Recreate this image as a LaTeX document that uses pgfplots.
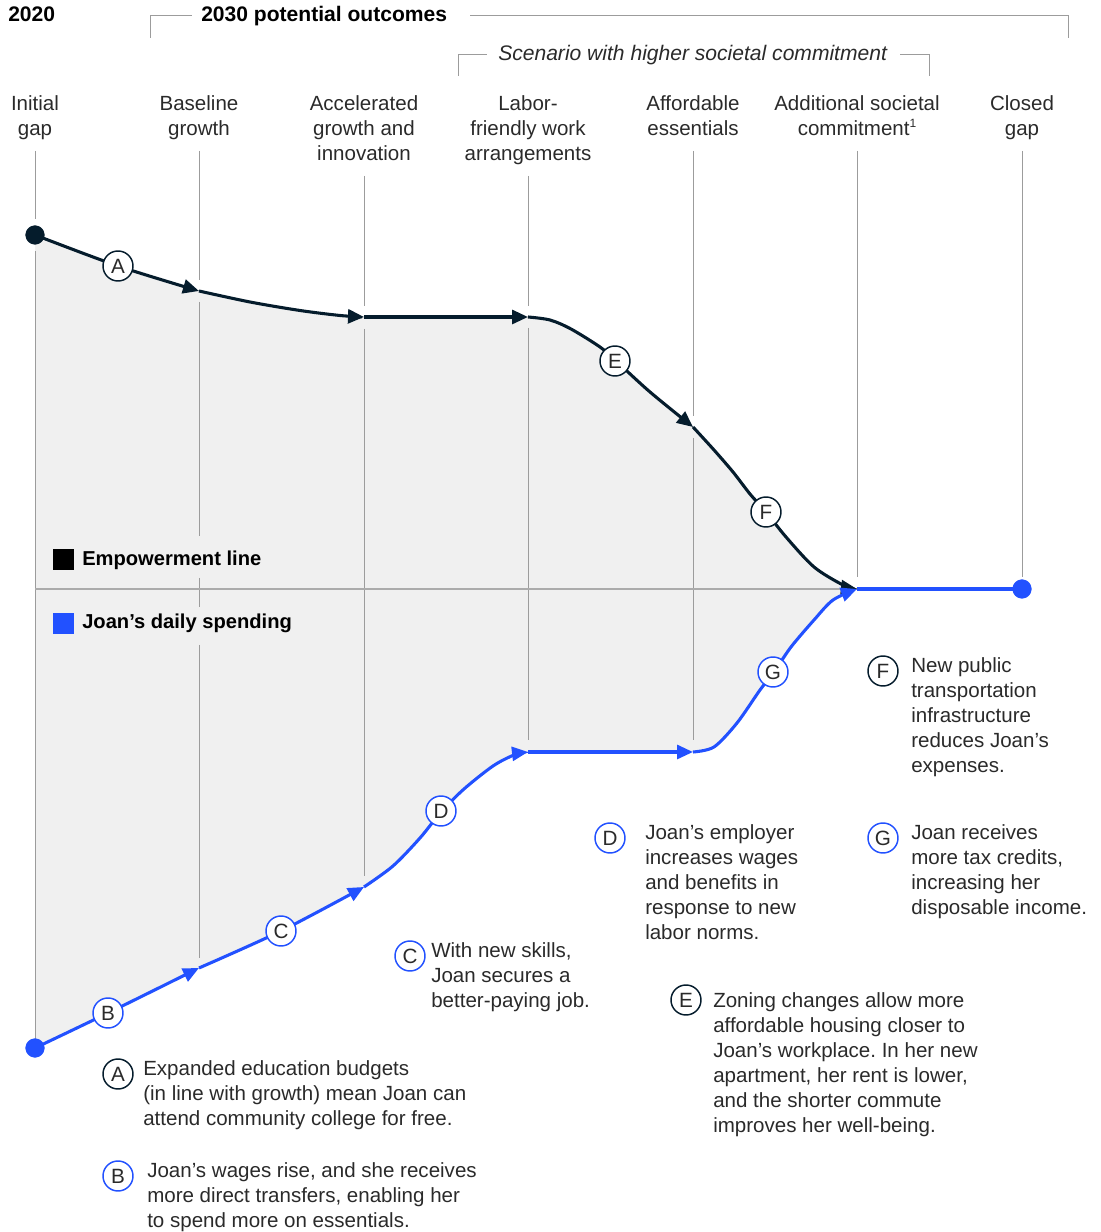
\documentclass[border=0pt]{standalone}
\usepackage{fontspec}
\setmainfont{Liberation Sans}
\usepackage{pgfplots}
\pgfplotsset{compat=1.18}
\usepgfplotslibrary{fillbetween}
\usetikzlibrary{arrows.meta}
\definecolor{navy}{HTML}{051C2C}
\definecolor{jblue}{HTML}{2251FF}
\definecolor{fillg}{HTML}{F0F0F0}
\definecolor{linegray}{HTML}{9C9C9C}
\definecolor{hgray}{HTML}{ABABAB}
\definecolor{txt}{HTML}{2A2A2A}
\frenchspacing
\tikzset{
  T/.style={anchor=base west, inner sep=0pt, text=txt, font=\fontsize{15.4pt}{18pt}\selectfont},
  TC/.style={T, anchor=base},
  TB/.style={anchor=base west, inner sep=0pt, text=black, font=\fontsize{15.8pt}{18pt}\selectfont\bfseries},
  TL/.style={anchor=base west, inner sep=0pt, text=black, font=\fontsize{15.1pt}{18pt}\selectfont\bfseries},
  circ/.style={circle, draw=#1, fill=white, line width=1.1pt, minimum size=22.5pt, inner sep=0pt, text=txt, font=\fontsize{15.5pt}{16pt}\selectfont},
  tip/.style={-{Triangle[length=12pt,width=10.5pt]}},
}
\newcommand{\vl}[3]{\addplot[linegray, line width=0.75pt, forget plot] coordinates {(#1,#2) (#1,#3)};}
\begin{document}
\begin{tikzpicture}
\begin{axis}[
  scale only axis, width=825pt, height=924pt,
  xmin=0, xmax=1100, ymin=0, ymax=1232, y dir=reverse,
  hide axis, clip=false,
]
% ---- shaded gap ----
\addplot[draw=none, name path=top, smooth, forget plot] coordinates {
 (35,235)(118,266)(199,291)(250,302)(300,310.5)(340,315.5)(364,317)(446,317)(528,317)
 (550,320)(571,329)(600,347)(615,360)(650,392)(693,427)(714,450)(733,472)(750,494)
 (766,512)(786,537)(814,567)(843,585)(857,589)};
\addplot[draw=none, name path=bot, smooth, forget plot] coordinates {
 (35,1048)(108,1013)(199,968)(281,931)(364,887)(393,866)(420,838)(441,812)(464,789)
 (493,766)(514,755)(528,752)(610,752)(693,752)(714,747)(737,723)(760,690)(774,672)
 (791,647)(814,620)(833,600)(857,589)};
\addplot[fillg, forget plot] fill between[of=top and bot];

% ---- column lines ----
\vl{35}{151}{219}\vl{35}{251}{1040}
\vl{199}{151}{280}\vl{199}{302}{536}\vl{199}{578}{607}\vl{199}{645}{958}
\vl{364}{176}{306}\vl{364}{329}{876}
\vl{528}{176}{306}\vl{528}{328}{740}
\vl{693}{151}{416}\vl{693}{438}{740}
\vl{857}{151}{577}
\vl{1022}{151}{577}
% empowerment line
\addplot[hgray, line width=1.5pt] coordinates {(35,589) (857,589)};

% ---- brackets ----
\addplot[linegray, line width=0.75pt] coordinates {(150,38)(150,16)(192,16)};
\addplot[linegray, line width=0.75pt] coordinates {(470,16)(1068,16)(1068,38)};
\addplot[linegray, line width=0.75pt] coordinates {(458,76)(458,55)(487,55)};
\addplot[linegray, line width=0.75pt] coordinates {(900,55)(929,55)(929,76)};

% ---- empowerment (dark) path ----
\addplot[navy, line width=2.3pt, smooth, tip] coordinates {(35,235)(118,266)(199,291)};
\addplot[navy, line width=2.3pt, smooth, tip] coordinates {(199,291)(250,302)(300,310.5)(340,315.5)(364,317)};
\addplot[navy, line width=2.3pt, tip] coordinates {(364,317)(528,317)};
\addplot[navy, line width=2.3pt, smooth, tip] coordinates {(528,317)(550,320)(571,329)(600,347)(615,360)(650,392)(693,427)};
\addplot[navy, line width=2.3pt, smooth, tip] coordinates {(693,427)(714,450)(733,472)(750,494)(766,512)(786,537)(814,567)(843,585)(857,589)};

% ---- Joan's spending (blue) path ----
\addplot[jblue, line width=2.3pt, smooth, tip] coordinates {(35,1048)(108,1013)(199,968)};
\addplot[jblue, line width=2.3pt, smooth, tip] coordinates {(199,968)(281,931)(364,887)};
\addplot[jblue, line width=2.3pt, smooth, tip] coordinates {(364,887)(393,866)(420,838)(441,812)(464,789)(493,766)(514,755)(528,752)};
\addplot[jblue, line width=2.3pt, tip] coordinates {(528,752)(693,752)};
\addplot[jblue, line width=2.3pt, smooth, tip] coordinates {(693,752)(714,747)(737,723)(760,690)(774,672)(791,647)(814,620)(833,600)(857,589)};
\addplot[jblue, line width=2.3pt] coordinates {(857,589)(1022,589)};

% ---- end dots ----
\addplot[only marks, mark=*, mark size=7pt, mark options={draw=navy, fill=navy}] coordinates {(35,235)};
\addplot[only marks, mark=*, mark size=7pt, mark options={draw=jblue, fill=jblue}] coordinates {(35,1048) (1022,589)};

% ---- legend swatches ----
\addplot[only marks, mark=square*, mark size=7.5pt, mark options={draw=black, fill=black}] coordinates {(63,559)};
\addplot[only marks, mark=square*, mark size=7.5pt, mark options={draw=jblue, fill=jblue}] coordinates {(63,623)};
\node[TL] at (axis cs:82,566) {Empowerment line};
\node[TL] at (axis cs:82,629) {Joan’s daily spending};

% ---- circle labels on the paths ----
\node[circ=navy] at (axis cs:118,266) {A};
\node[circ=navy] at (axis cs:615,361) {E};
\node[circ=navy] at (axis cs:766,512) {F};
\node[circ=jblue] at (axis cs:108,1013) {B};
\node[circ=jblue] at (axis cs:281,931) {C};
\node[circ=jblue] at (axis cs:441,811) {D};
\node[circ=jblue] at (axis cs:773,672) {G};

% ---- headers ----
\node[TB] at (axis cs:8,22) {2020};
\node[TB] at (axis cs:201,22) {2030 potential outcomes};
\node[T, font=\fontsize{15.8pt}{18pt}\selectfont\itshape] at (axis cs:498,61) {Scenario with higher societal commitment};

\node[TC] at (axis cs:35,111) {Initial};
\node[TC] at (axis cs:35,136) {gap};
\node[TC] at (axis cs:199,111) {Baseline};
\node[TC] at (axis cs:199,136) {growth};
\node[TC] at (axis cs:364,111) {Accelerated};
\node[TC] at (axis cs:364,136) {growth and};
\node[TC] at (axis cs:364,161) {innovation};
\node[TC] at (axis cs:528,111) {Labor-};
\node[TC] at (axis cs:528,136) {friendly work};
\node[TC] at (axis cs:528,161) {arrangements};
\node[TC] at (axis cs:693,111) {Affordable};
\node[TC] at (axis cs:693,136) {essentials};
\node[TC] at (axis cs:857,111) {Additional societal};
\node[TC] at (axis cs:857,136) {commitment\raisebox{0.75ex}{\fontsize{9pt}{9pt}\selectfont 1}};
\node[TC] at (axis cs:1022,111) {Closed};
\node[TC] at (axis cs:1022,136) {gap};

% ---- annotations ----
\node[circ=navy] at (axis cs:118,1074) {A};
\node[T] at (axis cs:143,1076) {Expanded education budgets};
\node[T] at (axis cs:143,1101) {(in line with growth) mean Joan can};
\node[T] at (axis cs:143,1126) {attend community college for free.};

\node[circ=jblue] at (axis cs:118,1176) {B};
\node[T] at (axis cs:147,1178) {Joan’s wages rise, and she receives};
\node[T] at (axis cs:147,1203) {more direct transfers, enabling her};
\node[T] at (axis cs:147,1228) {to spend more on essentials.};

\node[circ=jblue] at (axis cs:410,956) {C};
\node[T] at (axis cs:431,958) {With new skills,};
\node[T] at (axis cs:431,983) {Joan secures a};
\node[T] at (axis cs:431,1008) {better-paying job.};

\node[circ=jblue] at (axis cs:610,838) {D};
\node[T] at (axis cs:645,840) {Joan’s employer};
\node[T] at (axis cs:645,865) {increases wages};
\node[T] at (axis cs:645,890) {and benefits in};
\node[T] at (axis cs:645,915) {response to new};
\node[T] at (axis cs:645,940) {labor norms.};

\node[circ=navy] at (axis cs:686,1000) {E};
\node[T] at (axis cs:713,1008) {Zoning changes allow more};
\node[T] at (axis cs:713,1033) {affordable housing closer to};
\node[T] at (axis cs:713,1058) {Joan’s workplace. In her new};
\node[T] at (axis cs:713,1083) {apartment, her rent is lower,};
\node[T] at (axis cs:713,1108) {and the shorter commute};
\node[T] at (axis cs:713,1133) {improves her well-being.};

\node[circ=navy] at (axis cs:883,671) {F};
\node[T] at (axis cs:911,673) {New public};
\node[T] at (axis cs:911,698) {transportation};
\node[T] at (axis cs:911,723) {infrastructure};
\node[T] at (axis cs:911,748) {reduces Joan’s};
\node[T] at (axis cs:911,773) {expenses.};

\node[circ=jblue] at (axis cs:883,838) {G};
\node[T] at (axis cs:911,840) {Joan receives};
\node[T] at (axis cs:911,865) {more tax credits,};
\node[T] at (axis cs:911,890) {increasing her};
\node[T] at (axis cs:911,915) {disposable income.};
\end{axis}
\pgfresetboundingbox
\path[use as bounding box] (current axis.south west) rectangle (current axis.north east);
\end{tikzpicture}
\end{document}
